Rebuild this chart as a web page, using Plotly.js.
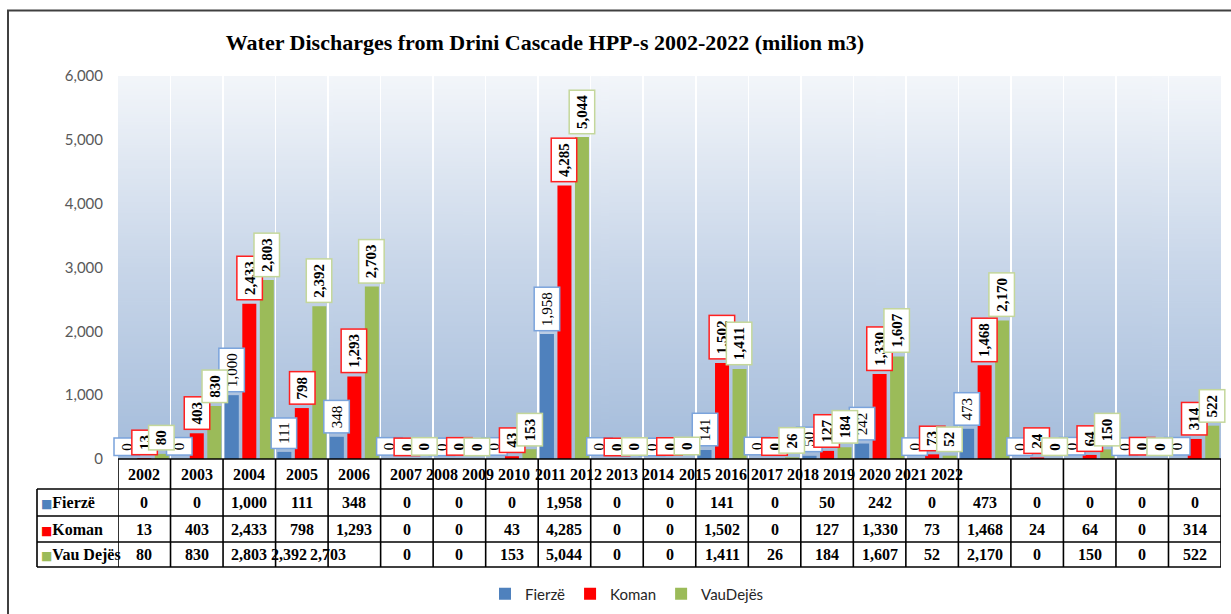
<!DOCTYPE html>
<html><head><meta charset="utf-8">
<script src="https://cdn.plot.ly/plotly-3.0.1.min.js"></script>
<style>html,body{margin:0;padding:0;background:#fff;overflow:hidden}</style>
</head><body><div id="chart" style="width:1231px;height:614px"></div>
<script>
// ---- data ----
const years = ['2002','2003','2004','2005','2006','2007','2008','2009','2010','2011','2012','2013','2014','2015','2016','2017','2018','2019','2020','2021','2022'];
const fierze   = [0,0,1000,111,348,0,0,0,1958,0,0,141,0,50,242,0,473,0,0,0,0];
const koman    = [13,403,2433,798,1293,0,0,43,4285,0,0,1502,0,127,1330,73,1468,24,64,0,314];
const vauDejes = [80,830,2803,2392,2703,0,0,153,5044,0,0,1411,26,184,1607,52,2170,0,150,0,522];
const seriesNames = ['Fierzë','Koman','VauDejës'];
const rowLabels = ['Fierzë','Koman','Vau Dejës'];
const titleText = 'Water Discharges from Drini Cascade HPP-s 2002-2022 (milion m3)';

// ---- styles ----
const barColors = ['#4f81bd','#ff0000','#9bbb59'];
const labelBorders = ['#7aa3dc','#ff2020','#c4d79b'];
const serif = 'Liberation Serif, Times New Roman, serif';
const sans = 'Lato, Calibri, sans-serif';

const W = 1231, H = 614;
const PLOT = {l:118, r:1221, t:76, b:459};
const pw = PLOT.r - PLOT.l, ph = PLOT.b - PLOT.t;
const px2x = px => (px - PLOT.l) / pw;
const py2y = py => (PLOT.b - py) / ph;

const series = [fierze, koman, vauDejes];
const traces = series.map((vals, i) => ({
  type: 'bar', name: seriesNames[i], x: years, y: vals,
  marker: {color: barColors[i]}, hoverinfo: 'skip'
}));

// background gradient image
const cv = document.createElement('canvas');
cv.width = 8; cv.height = 400;
const cx = cv.getContext('2d');
const grd = cx.createLinearGradient(0,0,0,400);
grd.addColorStop(0,'#f3f6fa');
grd.addColorStop(0.5,'#c8d6e9');
grd.addColorStop(1,'#a4bcdb');
cx.fillStyle = grd; cx.fillRect(0,0,8,400);
const bgURL = cv.toDataURL('image/png');

const annotations = [];
const slot = pw / years.length / 3;
// data labels (category index used as x position on the category axis)
series.forEach((vals, s) => {
  vals.forEach((v, i) => {
    annotations.push({
      x: i, y: v, xref: 'x', yref: 'y',
      text: v.toLocaleString('en-US'), textangle: -90, showarrow: false,
      xanchor: 'center', yanchor: 'bottom', xshift: (s - 1) * slot, yshift: 3,
      bgcolor: '#ffffff', bordercolor: labelBorders[s], borderwidth: 1.5, borderpad: 4,
      font: {family: serif, size: 15, color: '#000', weight: s === 0 ? 'normal' : 'bold'}
    });
  });
});

// table geometry (pixel rows)
const rowsPy = [459, 489, 516, 542, 567];
const tableLeftPx = 37;
const shapes = [];
const lineStyle = {color: '#000', width: 1.6};
shapes.push({type:'line', xref:'paper', yref:'paper', x0:0, x1:1, y0:py2y(rowsPy[0]), y1:py2y(rowsPy[0]), line: lineStyle});
for (let r = 1; r < rowsPy.length; r++) {
  shapes.push({type:'line', xref:'paper', yref:'paper', x0:px2x(tableLeftPx), x1:1, y0:py2y(rowsPy[r]), y1:py2y(rowsPy[r]), line: lineStyle});
}
shapes.push({type:'line', xref:'paper', yref:'paper', x0:px2x(tableLeftPx), x1:px2x(tableLeftPx), y0:py2y(rowsPy[1]), y1:py2y(rowsPy[4]), line: lineStyle});
for (let i = 0; i <= years.length; i++) {
  shapes.push({type:'line', xref:'x', yref:'paper', x0:i-0.5, x1:i-0.5, y0:py2y(rowsPy[0]), y1:py2y(rowsPy[4]), line: lineStyle});
}
// outer chart border
shapes.push({type:'rect', xref:'paper', yref:'paper', x0:px2x(8), x1:px2x(1245), y0:py2y(640), y1:py2y(10.5), line:{color:'#404040', width:2}, fillcolor:'rgba(0,0,0,0)', layer:'above'});

const cellFont = {family: serif, size: 16, color: '#000', weight: 'bold'};
// header row (as in the reference: first five centered, the rest run together)
years.forEach((y, i) => {
  const ann = {yref:'paper', y: py2y((rowsPy[0]+rowsPy[1])/2), text: y, showarrow:false, font: cellFont, yanchor:'middle', xanchor:'center'};
  if (i < 5) { ann.xref = 'x'; ann.x = i; }
  else { ann.xref = 'paper'; ann.x = px2x(406 + (i - 5) * 36.07); }
  annotations.push(ann);
});
// value rows
const cellShift = {'2-3': -13, '2-4': -26};
series.forEach((vals, s) => {
  const yc = py2y((rowsPy[s+1] + rowsPy[s+2]) / 2);
  annotations.push({xref:'paper', yref:'paper', x: px2x(39), y: yc, xanchor:'left', yanchor:'middle', showarrow:false,
    text: '<span style="color:' + barColors[s] + ';font-family:DejaVu Sans;font-size:12px">■</span>' + rowLabels[s], font: cellFont});
  vals.forEach((v, i) => {
    annotations.push({xref:'x', yref:'paper', x: i, y: yc, xanchor:'center', yanchor:'middle', showarrow:false,
      xshift: cellShift[s + '-' + i] || 0, text: v.toLocaleString('en-US'), font: cellFont});
  });
});

const layout = {
  width: W, height: H,
  margin: {l: PLOT.l, r: W - PLOT.r, t: PLOT.t, b: H - PLOT.b, pad: 0},
  paper_bgcolor: '#ffffff', plot_bgcolor: 'rgba(0,0,0,0)',
  title: {text: titleText, x: 545 / W, xref: 'container', xanchor: 'center', y: 1 - 42 / H, yref: 'container', yanchor: 'middle',
    font: {family: serif, size: 22, color: '#000', weight: 'bold'}},
  barmode: 'group', bargap: 0, bargroupgap: 0.2,
  showlegend: true,
  legend: {orientation: 'h', xref: 'container', yref: 'container', x: 627 / W, xanchor: 'center', y: 1 - 594 / H, yanchor: 'middle',
    font: {family: sans, size: 15, color: '#262626'}, itemwidth: 30, traceorder: 'normal'},
  xaxis: {type: 'category', showticklabels: false, ticks: '', tickson: 'boundaries', showgrid: true, gridcolor: '#ffffff', gridwidth: 1.5,
    zeroline: false, showline: false, range: [-0.5, years.length - 0.5], fixedrange: true},
  yaxis: {range: [0, 6000], dtick: 1000, tickformat: ',', showgrid: false, zeroline: false, showline: false, ticks: '',
    ticklabelstandoff: 14, tickfont: {family: sans, size: 15, color: '#595959'}, fixedrange: true},
  images: [{source: bgURL, xref: 'paper', yref: 'paper', x: 0, y: 1, sizex: 1, sizey: 1, sizing: 'stretch', xanchor: 'left', yanchor: 'top', layer: 'below'}],
  shapes: shapes,
  annotations: annotations,
  hovermode: false
};

Plotly.newPlot('chart', traces, layout, {displayModeBar: false, staticPlot: true});
</script>
</body></html>
